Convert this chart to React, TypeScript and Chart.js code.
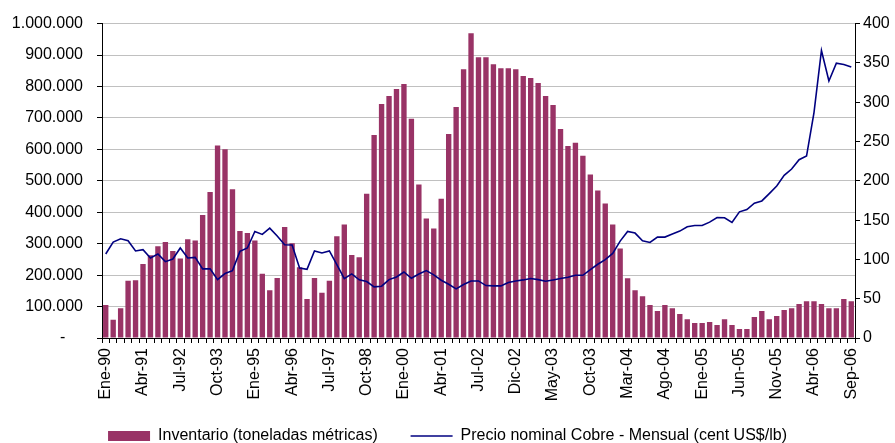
import { useEffect, useRef } from 'react';
import { Chart, registerables } from 'chart.js';

Chart.register(...registerables);

const FUENTE = '"Liberation Sans", Arial, sans-serif';
const COLOR_BARRA = '#993366';
const COLOR_LINEA = '#000080';

const MESES = ['Ene', 'Feb', 'Mar', 'Abr', 'May', 'Jun', 'Jul', 'Ago', 'Sep', 'Oct', 'Nov', 'Dic'];

// Trimestral desde Ene-90 hasta Abr-02, luego mensual desde Jul-02 hasta Sep-06
const fechas: string[] = [];
for (let q = 0; q < 50; q++) {
  const anio = 90 + Math.floor(q / 4);
  fechas.push(`${MESES[(q % 4) * 3]}-${String(anio % 100).padStart(2, '0')}`);
}
for (let m = 0; m < 51; m++) {
  const total = 6 + m;
  const anio = 2 + Math.floor(total / 12);
  fechas.push(`${MESES[total % 12]}-${String(anio).padStart(2, '0')}`);
}

// Inventario (toneladas métricas)
const inventario = [
  105000, 58000, 95000, 182000, 184000, 235000, 263000, 292000, 305000, 277000,
  253000, 314000, 310000, 391000, 464000, 612000, 600000, 473000, 340000, 334000,
  310000, 204000, 152000, 191000, 353000, 301000, 225000, 124000, 191000, 144000,
  182000, 324000, 361000, 264000, 257000, 459000, 646000, 744000, 770000, 792000,
  808000, 697000, 488000, 380000, 348000, 443000, 649000, 735000, 855000, 969000,
  893000, 893000, 871000, 858000, 858000, 855000, 833000, 827000, 811000, 770000,
  741000, 665000, 611000, 621000, 580000, 520000, 469000, 428000, 361000, 285000,
  190000, 152000, 133000, 105000, 86000, 105000, 95000, 76000, 60000, 48000,
  48000, 51000, 41000, 60000, 41000, 29000, 29000, 67000, 86000, 60000,
  70000, 89000, 95000, 108000, 117000, 117000, 108000, 95000, 95000, 124000,
  117000,
];

// Precio nominal Cobre - Mensual (cent US$/lb)
const precioCobre = [
  106.9, 122, 126.3, 123.8, 110.7, 112.4, 101.8, 106.9, 97.1, 100.5,
  114.5, 101.8, 102.6, 87.9, 87.9, 74.3, 82, 85.7, 110.2, 114.5,
  135.6, 131.8, 139.8, 129.7, 118.7, 118.3, 89.1, 87.4, 110.7, 108.1,
  110.7, 93.3, 75.6, 81.5, 74, 71.8, 65, 65.9, 74.3, 77.7,
  84, 76, 81.5, 85.7, 80.3, 73.5, 68.4, 62.5, 68, 72.6,
  72.6, 66.7, 66.3, 66.3, 70.5, 72.6, 73.9, 75.6, 74.3, 72.2,
  73.9, 75.6, 77.3, 79.8, 79.8, 87, 93.8, 99.7, 107.7, 123.3,
  135.6, 133.5, 123.8, 121.6, 128.4, 128.4, 132.2, 136, 141.5, 143.2,
  143.2, 147.4, 153.3, 152.9, 147, 160.5, 163.5, 171.5, 174.4, 183.7,
  193.4, 207, 215, 226.8, 231.5, 286.8, 365.8, 326.9, 349.7, 348,
  344.7,
];

const formatoMiles = (v: number) =>
  v === 0 ? '-    ' : Math.round(v).toString().replace(/\B(?=(\d{3})+(?!\d))/g, '.');

export default function App() {
  const canvasRef = useRef<HTMLCanvasElement | null>(null);

  useEffect(() => {
    const canvas = canvasRef.current;
    if (!canvas) return;
    Chart.defaults.font.family = FUENTE;
    const fuente = { family: FUENTE, size: 16 };

    const chart = new Chart(canvas, {
      type: 'bar',
      data: {
        labels: fechas,
        datasets: [
          {
            type: 'bar',
            label: 'Inventario (toneladas métricas)',
            data: inventario,
            backgroundColor: COLOR_BARRA,
            borderWidth: 0,
            categoryPercentage: 1,
            barPercentage: 0.72,
            yAxisID: 'y',
            order: 2,
          },
          {
            type: 'line',
            label: 'Precio nominal Cobre - Mensual (cent US$/lb)',
            data: precioCobre,
            borderColor: COLOR_LINEA,
            backgroundColor: COLOR_LINEA,
            borderWidth: 1.6,
            pointRadius: 0,
            tension: 0,
            yAxisID: 'y1',
            order: 1,
          },
        ],
      } as any,
      options: {
        responsive: false,
        animation: false,
        layout: { padding: { left: 0, right: 0, top: 22, bottom: -11 } },
        plugins: {
          tooltip: { enabled: false },
          legend: {
            position: 'bottom',
            labels: {
              font: fuente,
              color: '#000',
              usePointStyle: true,
              pointStyleWidth: 42,
              boxHeight: 10,
              padding: 24,
              sort: (a: any, b: any) => a.datasetIndex - b.datasetIndex,
              generateLabels: (c: any) =>
                Chart.defaults.plugins.legend.labels.generateLabels(c).map((item: any) =>
                  item.datasetIndex === 0
                    ? {
                        ...item,
                        text: item.text + '  ',
                        pointStyle: 'rect',
                        fillStyle: COLOR_BARRA,
                        strokeStyle: COLOR_BARRA,
                        lineWidth: 0,
                      }
                    : { ...item, pointStyle: 'line', fillStyle: COLOR_LINEA, strokeStyle: COLOR_LINEA, lineWidth: 1.6 }
                ),
            },
          },
        },
        scales: {
          x: {
            offset: true,
            grid: {
              offset: true,
              drawOnChartArea: false,
              drawTicks: true,
              tickLength: 5,
              tickColor: '#000',
            },
            border: { display: true, color: '#000', width: 1 },
            ticks: {
              autoSkip: false,
              maxRotation: 90,
              minRotation: 90,
              padding: 5,
              font: fuente,
              color: '#000',
              callback: (_v: any, i: number) => (i % 5 === 0 ? fechas[i] : ''),
            },
            afterFit: (s: any) => {
              s.height = 66;
            },
          },
          y: {
            position: 'left',
            min: 0,
            max: 1000000,
            ticks: {
              stepSize: 100000,
              font: fuente,
              color: '#000',
              padding: 14,
              callback: (v: any) => formatoMiles(Number(v)),
            },
            grid: { color: '#c0c0c0', tickColor: '#000', tickLength: 5, lineWidth: 1 },
            border: { display: true, color: '#000', width: 1 },
            afterFit: (s: any) => {
              s.width = 102;
            },
          },
          y1: {
            position: 'right',
            min: 0,
            max: 400,
            ticks: { stepSize: 50, font: fuente, color: '#000', padding: 3 },
            grid: { drawOnChartArea: false, tickColor: '#000', tickLength: 5 },
            border: { display: true, color: '#000', width: 1 },
            afterFit: (s: any) => {
              s.width = 40;
            },
          },
        },
      } as any,
    });

    return () => chart.destroy();
  }, []);

  return (
    <div style={{ position: 'absolute', left: 0, top: 0, width: 895, height: 443, background: '#fff' }}>
      <canvas ref={canvasRef} width={895} height={443} />
    </div>
  );
}
